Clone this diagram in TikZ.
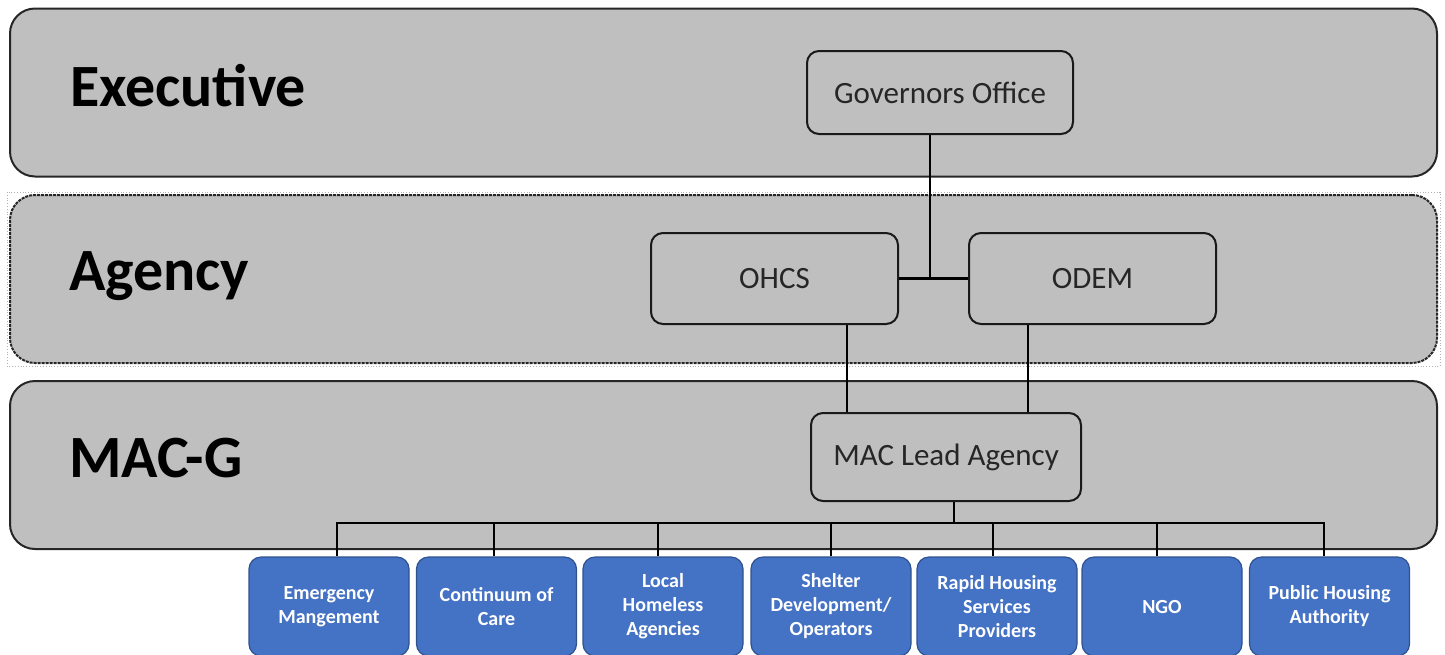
\documentclass[tikz,border=0pt]{standalone}
\usepackage{fontspec}
\setmainfont{Carlito}
\usetikzlibrary{positioning}
\definecolor{bandgray}{HTML}{BFBFBF}
\definecolor{unitblue}{HTML}{4472C4}
\definecolor{unitedge}{HTML}{2F528F}

\begin{document}
\begin{tikzpicture}[x=0.5pt,y=-0.5pt,
  band/.style={draw=black!85, line width=1pt, fill=bandgray, rounded corners=12.5pt,
    minimum width=713.5pt, minimum height=84pt, inner sep=0pt},
  bandlabel/.style={anchor=base west, font=\bfseries\fontsize{30}{36}\selectfont},
  office/.style={draw=black!90, line width=1pt, rounded corners=6pt, inner sep=0pt,
    text=black!85, font=\fontsize{15.5}{18}\selectfont},
  unit/.style={draw=unitedge, line width=0.6pt, fill=unitblue, rounded corners=6pt,
    minimum width=80pt, minimum height=49.5pt, inner sep=0pt, align=center,
    text=white, font=\bfseries\fontsize{10}{12}\selectfont},
  link/.style={line width=1.3pt}]
\useasboundingbox (0,0) rectangle (1445,654);

% layers
\node[band] (exec) at (723.5,92.5) {};
\draw[gray!60, densely dotted, line width=0.4pt] (7,192) rectangle (1440,366);
\node[band, dash pattern=on 1.5pt off 0.5pt] (agency) at (723.5,279) {};
\node[band] (macg) at (723.5,465) {};
\node[bandlabel] (execlabel) at (63,106) {Executive};
\node[bandlabel] (agencylabel) at (62,290) {Agency};
\node[bandlabel] (macglabel) at (62,477) {MAC-G};

% offices
\node[office, minimum width=133pt, minimum height=41.5pt] (gov) at (940,92.5) {Governors Office};
\node[office, minimum width=123.5pt, minimum height=45.5pt] (ohcs) at (774.5,278.5) {OHCS};
\node[office, minimum width=123.5pt, minimum height=45.5pt] (odem) at (1092.5,278.5) {ODEM};
\node[office, minimum width=135pt, minimum height=44pt] (mac) at (946,457) {MAC Lead Agency};

\coordinate (join) at (930,278.5);
\draw[link] (ohcs.east) -- (odem.west);
\draw[link] (join) -- (join |- gov.south);
\draw[link] (ohcs.south) ++(72.5,0) coordinate (ohcsdrop) -- (ohcsdrop |- mac.north);
\draw[link] (odem.south) ++(-64.5,0) coordinate (odemdrop) -- (odemdrop |- mac.north);
\draw[link] (mac.south) ++(8,0) coordinate (macdrop) -- ++(0,21) coordinate (bus);

% member units
\foreach \cx/\off/\txt [count=\i] in {
    329/8/{Emergency\\Mangement},
    496.5/-2.5/{Continuum of\\Care},
    663/-5/{Local\\Homeless\\Agencies},
    831/0/{Shelter\\Development/\\Operators},
    997/-4/{Rapid Housing\\Services\\Providers},
    1162/-5/{NGO},
    1329.5/-5.5/{Public Housing\\Authority}} {
  \node[unit] (unit\i) at (\cx,606.5) {\txt};
  \draw[link] (unit\i.north) ++(\off,0) coordinate (drop\i) -- (drop\i |- bus) -- (bus);
}
\end{tikzpicture}
\end{document}
